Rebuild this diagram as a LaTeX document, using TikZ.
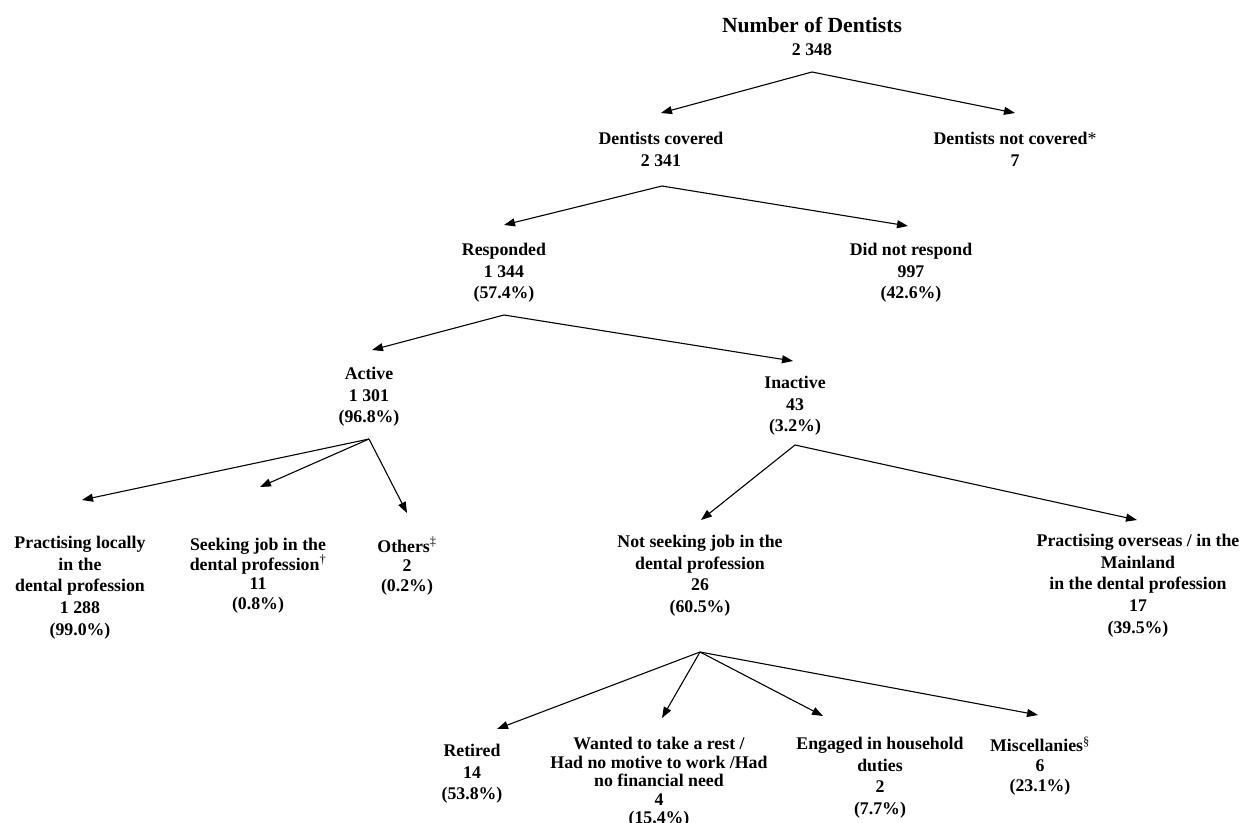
\documentclass[tikz,border=0pt]{standalone}
\usepackage{fontspec}
\setmainfont{Liberation Serif}
\usetikzlibrary{arrows.meta}
\tikzset{
  lbl/.style={align=center,inner sep=0pt,anchor=north,font=\fontsize{17.8}{21.7}\selectfont\bfseries},
  lbltight/.style={lbl,font=\fontsize{17.8}{19.6}\selectfont\bfseries},
  arr/.style={line width=1.1pt,-{Triangle[length=11pt,width=8pt]}},
}
\begin{document}
\begin{tikzpicture}[x=1pt,y=-1pt]
\useasboundingbox (0,0) rectangle (1242,822);

% top of the tree
\node[lbl] (total) at (812,17) {{\fontsize{21.6}{24}\selectfont Number of Dentists}\\[1pt]2 348};
\node[lbl] (covered) at (661,132) {Dentists covered\\2 341};
\node[lbl] (notcov) at (1015,132) {Dentists not covered{\mdseries *}\\7};

\node[lbl] (resp) at (504,243) {Responded\\1 344\\(57.4\%)};
\node[lbl] (noresp) at (911,243) {Did not respond\\997\\(42.6\%)};

\node[lbl] (active) at (369,367) {Active\\1 301\\(96.8\%)};
\node[lbl] (inactive) at (795,376) {Inactive\\43\\(3.2\%)};

% active branch
\node[lbl] (practloc) at (80,536) {Practising locally\\in the\\dental profession\\1 288\\(99.0\%)};
\node[lbltight] (seeking) at (258,538) {Seeking job in the\\dental profession\textsuperscript{\mdseries †}\\11\\(0.8\%)};
\node[lbltight] (others) at (407,537) {Others\textsuperscript{\mdseries ‡}\\2\\(0.2\%)};

% inactive branch
\node[lbl] (notseek) at (700,535) {Not seeking job in the\\dental profession\\26\\(60.5\%)};
\node[lbl] (overseas) at (1138,534) {Practising overseas / in the\\Mainland\\in the dental profession\\17\\(39.5\%)};

% reasons
\node[lbl] (retired) at (472,744) {Retired\\14\\(53.8\%)};
\node[lbl,font=\fontsize{17.8}{18.6}\selectfont\bfseries] (wanted) at (659,737) {Wanted to take a rest /\\Had no motive to work /Had\\no financial need\\4\\(15.4\%)};
\node[lbl] (engaged) at (880,737) {Engaged in household\\duties\\2\\(7.7\%)};
\node[lbltight] (misc) at (1040,737) {Miscellanies\textsuperscript{\mdseries §}\\6\\(23.1\%)};

% fork points
\coordinate (total-fork) at (812,72);
\coordinate (covered-fork) at (662,186);
\coordinate (resp-fork) at (504,315);
\coordinate (active-fork) at (369,439);
\coordinate (inactive-fork) at (795,445);
\coordinate (notseek-fork) at (700,652);

\draw[arr] (total-fork) -- ([yshift=19pt]covered.north);
\draw[arr] (total-fork) -- ([yshift=19pt]notcov.north);
\draw[arr] (covered-fork) -- ([yshift=18pt]resp.north);
\draw[arr] (covered-fork) -- ([xshift=-3pt,yshift=17pt]noresp.north);
\draw[arr] (resp-fork) -- ([xshift=3pt,yshift=17pt]active.north);
\draw[arr] (resp-fork) -- ([xshift=-2pt,yshift=15pt]inactive.north);
\draw[arr] (active-fork) -- ([xshift=2pt,yshift=36pt]practloc.north);
\draw[arr] (active-fork) -- ([xshift=2pt,yshift=51pt]seeking.north);
\draw[arr] (active-fork) -- ([yshift=24pt]others.north);
\draw[arr] (inactive-fork) -- ([xshift=1pt,yshift=15pt]notseek.north);
\draw[arr] (inactive-fork) -- ([xshift=-1pt,yshift=14pt]overseas.north);
\draw[arr] (notseek-fork) -- ([xshift=25pt,yshift=15pt]retired.north);
\draw[arr] (notseek-fork) -- ([xshift=3pt,yshift=19pt]wanted.north);
\draw[arr] (notseek-fork) -- ([xshift=-57pt,yshift=21pt]engaged.north);
\draw[arr] (notseek-fork) -- ([xshift=-2pt,yshift=22pt]misc.north);

\end{tikzpicture}
\end{document}
